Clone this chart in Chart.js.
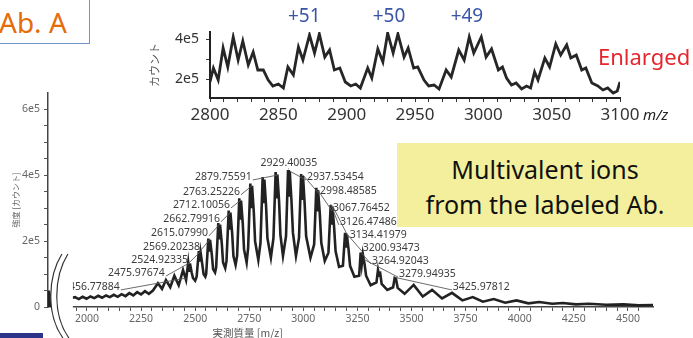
<!DOCTYPE html>
<html>
<head>
<meta charset="utf-8">
<script src="https://cdn.jsdelivr.net/npm/chart.js@4.4.1/dist/chart.umd.min.js"></script>
<style>
  body { margin: 0; background: #fff; }
  #wrap { position: relative; width: 693px; height: 338px; overflow: hidden; font-family: "Noto Sans", sans-serif; }
  #main { position: absolute; left: 0; top: 0; }
  #inset { position: absolute; left: 130px; top: 0; }
  #abbox { position: absolute; left: -3px; top: -3px; width: 93px; height: 47px; box-sizing: border-box;
           border: 1.5px solid #7394c9; background: #fff; }
  #abbox span { position: absolute; left: 1px; top: 4px; font-size: 28px; line-height: 40px; color: #e46c0a; }
  #note { position: absolute; left: 397px; top: 143px; width: 296px; height: 84px; background: #f4ef9d;
          text-align: center; font-size: 25px; line-height: 35px; color: #111; padding-top: 9px; box-sizing: border-box; }
  #enl { position: absolute; left: 598px; top: 41px; font-size: 22px; line-height: 30px; color: #e5262e; }
  #bar { position: absolute; left: 0; top: 333px; width: 43px; height: 5px; background: #2b3489; }
</style>
</head>
<body>
<div id="wrap">
  <canvas id="main" width="693" height="338"></canvas>
  <canvas id="inset" width="563" height="132"></canvas>
  <div id="abbox"><span>Ab. A</span></div>
  <div id="enl">Enlarged</div>
  <div id="note">Multivalent ions<br>from the labeled Ab.</div>
  <div id="bar"></div>
</div>
<script>
// ------------------ DONNEES ------------------
// spectre complet (axe coupe : petit bout avant la coupure, puis a partir de 1932)
const mainMz = [
  1822, 1824, 1826, 1832, 1834, 1836, 1843, 1845, 1847, 1855, 1880,
  1932, 1945, 1962, 1980, 1998, 2016, 2034, 2052, 2070, 2088, 2106, 2124, 2142, 2160, 2178, 2196, 2214, 2232, 2250, 2268, 2286, 2305,
  2328, 2347, 2365, 2385, 2404, 2424, 2444,
  2458, 2468, 2472, 2476, 2484, 2490, 2500,
  2507, 2517, 2521, 2525, 2533, 2539, 2547,
  2551, 2561, 2565, 2569, 2577, 2583, 2592,
  2597, 2607, 2611, 2615, 2623, 2629, 2639,
  2645, 2655, 2659, 2663, 2671, 2677, 2687,
  2694, 2704, 2708, 2712, 2720, 2726, 2738,
  2745, 2755, 2759, 2763, 2771, 2777, 2792,
  2802, 2812, 2816, 2820, 2828, 2834, 2850,
  2862, 2872, 2876, 2880, 2888, 2894, 2906,
  2920, 2929.4, 2933, 2937.5, 2945, 2952, 2966,
  2980, 2990, 2994, 2998.5, 3006, 3013, 3033,
  3050, 3060, 3064, 3068, 3076, 3083, 3099,
  3116, 3126.5, 3130, 3134.4, 3142, 3149, 3165,
  3183, 3193, 3197, 3201, 3209, 3216, 3236,
  3258, 3265, 3270, 3275, 3283, 3290, 3311,
  3338, 3345, 3350, 3354, 3362, 3388,
  3415, 3422, 3428, 3436, 3468,
  3510, 3552, 3595, 3641, 3687, 3735, 3783, 3830,
  3880, 3933, 3985, 4040, 4090, 4150, 4200, 4260, 4320, 4400,
  4480, 4550, 4616
];
const mainInt = [
  3000, 50000, 4000, 4000, 42000, 4000, 3000, 30000, 3000, 3000, null,
  28000, 30000, 24000, 31000, 25000, 32000, 27000, 34000, 28000, 35000, 30000, 37000, 31000, 39000, 33000, 42000, 35000, 45000, 38000, 48000, 40000, 50000,
  72000, 55000, 82000, 60000, 95000, 66000, 112000,
  82000, 135000, 110000, 132000, 105000, 88000, 80000,
  92000, 170000, 138000, 166000, 130000, 100000, 92000,
  100000, 208000, 168000, 204000, 160000, 115000, 105000,
  120000, 255000, 205000, 250000, 195000, 135000, 118000,
  140000, 293000, 235000, 287000, 225000, 155000, 128000,
  155000, 330000, 265000, 323000, 255000, 175000, 135000,
  180000, 375000, 300000, 368000, 290000, 200000, 143000,
  195000, 395000, 315000, 387000, 305000, 210000, 150000,
  210000, 410000, 330000, 402000, 320000, 220000, 155000,
  215000, 416000, 335000, 410000, 325000, 225000, 155000,
  210000, 404000, 325000, 398000, 315000, 215000, 150000,
  190000, 362000, 290000, 355000, 285000, 195000, 140000,
  165000, 310000, 250000, 305000, 245000, 170000, 122000,
  125000, 225000, 180000, 220000, 175000, 125000, 92000,
  95000, 165000, 130000, 160000, 130000, 95000, 66000,
  75000, 112000, 95000, 108000, 70000, 52000,
  60000, 88000, 86000, 58000, 40000,
  67000, 32000, 52000, 26000, 43000, 20000, 30000, 16000,
  24000, 13000, 20000, 11000, 15000, 10000, 12000, 8000, 10000, 7000,
  8000, 5000, 6000
];
const breakMz = 1875;
const mainYTicks = [0, 50000, 100000, 150000, 200000, 250000, 300000, 350000, 400000, 450000, 500000, 550000, 600000];

// etiquettes des pics (valeur m/z), cote du texte, et ancrage du texte en unites de donnees
const peakLabels = ['2456.77884', '2475.97674', '2524.92335', '2569.20238', '2615.07990', '2662.79916',
  '2712.10056', '2763.25226', '2879.75591', '2929.40035', '2937.53454', '2998.48585', '3067.76452',
  '3126.47486', '3134.41979', '3200.93473', '3264.92043', '3279.94935', '3425.97812'];
const labelSide = ['L', 'L', 'L', 'L', 'L', 'L', 'L', 'L', 'L', 'C', 'R', 'R', 'R', 'R', 'R', 'R', 'R', 'R', 'R'];
const labelMz = [2152, 2360, 2467, 2522, 2559, 2615, 2661, 2707, 2762, 2933, 3017, 3077, 3137, 3169, 3215, 3275, 3317, 3442, 3691];
const labelInt = [61000, 103000, 143000, 182000, 225000, 268000, 310000, 350000, 395000, 438000,
  395000, 353000, 301000, 258000, 219000, 179000, 140000, 100000, 61000];

// zoom 2800-3100
const insetMz = [
  2800, 2802.5, 2806, 2809.6, 2813, 2817, 2820.6, 2824, 2828, 2831.6, 2835, 2839, 2842.6, 2846, 2850, 2853.7,
  2857, 2861, 2864.7, 2868, 2872.8, 2876.5, 2880, 2884, 2887.5, 2891, 2895, 2899, 2903, 2906.6, 2910,
  2915.4, 2918.4, 2922.8, 2926.5, 2930, 2934, 2937.5, 2942, 2945, 2949, 2952, 2956.6, 2960, 2964, 2967.6,
  2972.8, 2976.5, 2982, 2986, 2989.7, 2993, 2998.5, 3002, 3006, 3011, 3014, 3017, 3020.6, 3024, 3028, 3031.6, 3034.6,
  3037.5, 3040, 3045, 3048.5, 3053, 3056.6, 3061, 3064, 3068, 3072, 3075, 3079.4, 3083.8, 3087.5, 3091, 3095, 3098, 3100
];
const insetInt = [
  185000, 255000, 195000, 355000, 260000, 410000, 295000, 390000, 270000, 335000, 245000, 245000, 195000, 165000, 175000, 155000,
  260000, 220000, 360000, 295000, 420000, 330000, 425000, 310000, 345000, 245000, 255000, 185000, 165000, 175000, 155000,
  255000, 205000, 350000, 285000, 430000, 330000, 425000, 310000, 355000, 255000, 260000, 195000, 165000, 170000, 150000,
  245000, 210000, 345000, 295000, 410000, 330000, 410000, 310000, 350000, 245000, 260000, 205000, 170000, 180000, 150000, 165000, 155000,
  235000, 195000, 305000, 260000, 375000, 320000, 370000, 305000, 320000, 245000, 255000, 180000, 165000, 145000, 155000, 130000, 140000, 185000
];
const insetYTicks = [200000, 300000, 400000];
const chargeLabels = ['+51', '+50', '+49'];
const chargeMz = [2869, 2931, 2988];

// ------------------ OUTILS ------------------
function intensityAt(mz) {
  for (let i = 1; i < mainMz.length; i++) {
    if (mainInt[i] == null || mainInt[i - 1] == null) continue;
    if (mainMz[i - 1] <= mz && mz <= mainMz[i]) {
      const t = (mz - mainMz[i - 1]) / (mainMz[i] - mainMz[i - 1]);
      return mainInt[i - 1] + t * (mainInt[i] - mainInt[i - 1]);
    }
  }
  return 0;
}

// "(" de la coupure d'axe
function breakCurve(ctx, bx) {
  ctx.moveTo(bx + 2, 254);
  ctx.bezierCurveTo(bx - 13, 278, bx - 13, 316, bx + 3, 338);
}

const notesPlugin = {
  id: 'notes',
  afterDatasetsDraw(chart) {
    const { ctx, scales: { x, y } } = chart;
    ctx.save();

    // etiquettes + traits de rappel
    ctx.font = '10.5px "Noto Sans"';
    ctx.fillStyle = '#3c3c3c';
    ctx.strokeStyle = '#5a5a5a';
    ctx.lineWidth = 0.9;
    ctx.textBaseline = 'middle';
    peakLabels.forEach((txt, i) => {
      const mz = parseFloat(txt);
      const px = x.getPixelForValue(mz);
      const py = y.getPixelForValue(intensityAt(mz));
      const tx = x.getPixelForValue(labelMz[i]);
      const ty = y.getPixelForValue(labelInt[i]);
      const side = labelSide[i];
      ctx.textAlign = side === 'L' ? 'right' : (side === 'R' ? 'left' : 'center');
      ctx.fillText(txt, tx, ty);
      ctx.beginPath();
      if (side === 'L') ctx.moveTo(tx + 1, ty + 3);
      else if (side === 'R') ctx.moveTo(tx - 1, ty + 3);
      else ctx.moveTo(tx, ty + 6);
      ctx.lineTo(px, py - 1);
      ctx.stroke();
    });

    // coupure de l'axe
    const bx = x.getPixelForValue(breakMz);
    ctx.beginPath();
    breakCurve(ctx, bx);
    ctx.lineTo(bx + 13, 338);
    ctx.lineTo(bx + 13, 280);
    ctx.lineTo(bx + 8, 254);
    ctx.closePath();
    ctx.fillStyle = '#fff';
    ctx.fill();
    ctx.strokeStyle = '#333';
    ctx.lineWidth = 1.2;
    ctx.beginPath(); breakCurve(ctx, bx); ctx.stroke();
    ctx.beginPath(); breakCurve(ctx, bx + 6); ctx.stroke();

    // titre de l'axe x
    ctx.font = '10.5px "Noto Sans CJK JP"';
    ctx.fillStyle = '#555';
    ctx.textAlign = 'center';
    ctx.fillText('実測質量 [m/z]', x.left + 0.33 * x.width, 333);
    ctx.restore();
  }
};

const insetPlugin = {
  id: 'insetNotes',
  afterDraw(chart) {
    const { ctx, chartArea, scales: { x } } = chart;
    ctx.save();
    ctx.font = '19px "Noto Sans"';
    ctx.fillStyle = '#3b55a6';
    ctx.textAlign = 'center';
    ctx.textBaseline = 'middle';
    chargeLabels.forEach((t, i) => ctx.fillText(t, x.getPixelForValue(chargeMz[i]), 17));
    ctx.font = 'italic 15px "Noto Sans"';
    ctx.fillStyle = '#222';
    ctx.textAlign = 'left';
    ctx.fillText('m/z', chartArea.right + 23, 116);
    ctx.restore();
  }
};

// ------------------ GRAPHIQUE PRINCIPAL ------------------
new Chart(document.getElementById('main'), {
  type: 'line',
  data: {
    datasets: [{
      data: mainMz.map((m, i) => ({ x: m, y: mainInt[i] })),
      borderColor: '#222',
      borderWidth: 2.6,
      pointRadius: 0,
      tension: 0,
      spanGaps: false
    }]
  },
  options: {
    responsive: false,
    animation: false,
    devicePixelRatio: 1,
    layout: { padding: { top: 93, right: 40, left: 0, bottom: 0 } },
    plugins: { legend: { display: false }, tooltip: { enabled: false } },
    scales: {
      x: {
        type: 'linear', min: 1820, max: 4616,
        afterFit(s) { s.height = 31; },
        afterBuildTicks(s) { s.ticks = s.ticks.filter(t => t.value >= 1950 && t.value % 50 === 0); },
        ticks: {
          stepSize: 50, autoSkip: false, maxRotation: 0, padding: 2,
          color: '#666', font: { family: 'Noto Sans', size: 10.5 },
          callback: v => (v % 250 === 0 ? String(v) : '')
        },
        grid: { drawOnChartArea: false, tickLength: 4, color: '#555' },
        border: { color: '#444', width: 1.5 }
      },
      y: {
        min: 0, max: 650000,
        afterFit(s) { s.width = 48; },
        afterBuildTicks(s) { s.ticks = mainYTicks.map(v => ({ value: v })); },
        ticks: {
          autoSkip: false, padding: 4,
          color: '#666', font: { family: 'Noto Sans', size: 10.5 },
          callback: v => (v === 0 ? '0' : (v % 200000 === 0 ? (v / 100000) + 'e5' : ''))
        },
        title: {
          display: true, text: '強度 [カウント]', color: '#666',
          font: { family: 'Noto Sans CJK JP', size: 8 }, padding: { top: 11, bottom: 0 }
        },
        grid: { drawOnChartArea: false, tickLength: 4, color: '#555' },
        border: { color: '#444', width: 1.5 }
      }
    }
  },
  plugins: [notesPlugin]
});

// ------------------ AGRANDISSEMENT ------------------
new Chart(document.getElementById('inset'), {
  type: 'line',
  data: {
    datasets: [{
      data: insetMz.map((m, i) => ({ x: m, y: insetInt[i] })),
      borderColor: '#262626',
      borderWidth: 2.8,
      pointRadius: 0,
      tension: 0
    }]
  },
  options: {
    responsive: false,
    animation: false,
    devicePixelRatio: 1,
    layout: { padding: { top: 32, right: 73, left: 0, bottom: 0 } },
    plugins: { legend: { display: false }, tooltip: { enabled: false } },
    scales: {
      x: {
        type: 'linear', min: 2800, max: 3100,
        afterFit(s) { s.height = 34; },
        ticks: {
          stepSize: 10, autoSkip: false, maxRotation: 0, padding: 3,
          color: '#333', font: { family: 'Noto Sans', size: 17 },
          callback: v => (v % 50 === 0 ? String(v) : '')
        },
        grid: { drawOnChartArea: false, tickLength: 4, color: '#333' },
        border: { color: '#222', width: 2 }
      },
      y: {
        min: 105000, max: 435000,
        afterFit(s) { s.width = 80; },
        afterBuildTicks(s) { s.ticks = insetYTicks.map(v => ({ value: v })); },
        ticks: {
          autoSkip: false, padding: 7,
          color: '#333', font: { family: 'Noto Sans', size: 14 },
          callback: v => (v % 200000 === 0 ? (v / 100000) + 'e5' : '')
        },
        title: {
          display: true, text: 'カウント', color: '#555',
          font: { family: 'Noto Sans CJK JP', size: 11 }, padding: { top: 18, bottom: 0 }
        },
        grid: { drawOnChartArea: false, tickLength: 4, color: '#333' },
        border: { color: '#222', width: 2 }
      }
    }
  },
  plugins: [insetPlugin]
});
</script>
</body>
</html>
